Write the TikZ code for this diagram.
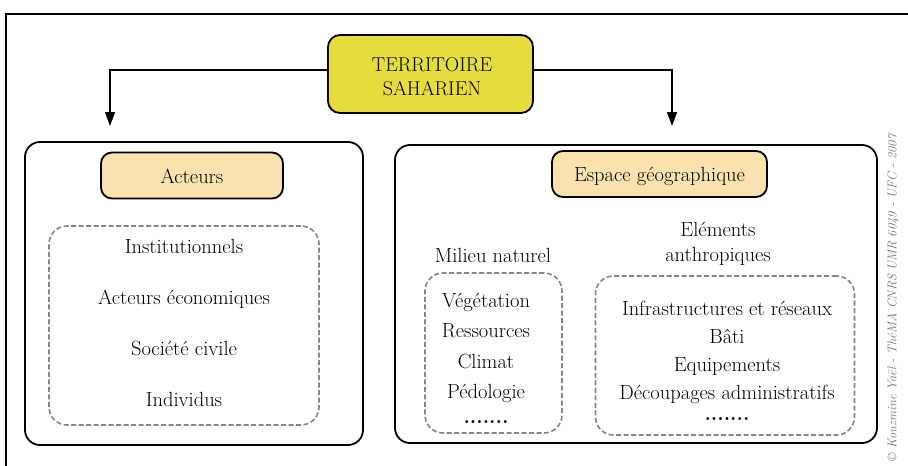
\documentclass[tikz,border=0pt]{standalone}
\usepackage{fontspec}
\usetikzlibrary{arrows.meta}
\definecolor{terfill}{HTML}{E6DC3E}
\definecolor{subfill}{HTML}{F9E2AE}
\definecolor{dashgray}{HTML}{858585}
\definecolor{copygray}{HTML}{707070}
\tikzset{
  every node/.style={inner sep=0pt, outer sep=0pt},
  bigbox/.style={draw=black, line width=1.8pt, rounded corners=15pt},
  terbox/.style={draw=black, line width=1.8pt, rounded corners=12pt, fill=terfill},
  subbox/.style={draw=black, line width=1.8pt, rounded corners=11pt, fill=subfill},
  dashbox/.style={draw=dashgray, line width=1.6pt, dash pattern=on 5pt off 2.5pt, rounded corners=18pt},
  txt/.style={font=\fontsize{20.5}{24}\selectfont, align=center},
  lbl/.style={txt, anchor=base},
  arr/.style={line width=1.6pt, -{Triangle[width=10pt,length=14pt]}},
}
\begin{document}
\begin{tikzpicture}[x=1pt,y=-1pt]
\useasboundingbox (0,0) rectangle (908,466);
% outer frame (partial)
\draw[line width=2.2pt] (908,14) -- (6,14) -- (6,466);
% top box
\node[terbox, minimum width=205pt, minimum height=78pt] (ter) at (430.5,74) {};
\node[lbl, font=\fontsize{20}{24}\selectfont] (ter1) at (432,71) {TERRITOIRE};
\node[lbl, font=\fontsize{20}{24}\selectfont] (ter2) at (432,95) {SAHARIEN};
\coordinate (aL) at (110,126);
\coordinate (aR) at (672,126);
\draw[arr] ([yshift=4pt]ter.west) -| (aL);
\draw[arr] ([yshift=4pt]ter.east) -| (aR);
% left part
\node[bigbox, minimum width=338pt, minimum height=303pt] (bigL) at (194,293.5) {};
\node[subbox, minimum width=182pt, minimum height=46pt] (act) at (192,175.5) {};
\node[lbl] (actt) at (192,183) {Acteurs};
\node[dashbox, minimum width=270pt, minimum height=199pt] (dashL) at (184,325.5) {};
\node[lbl] (l1) at (184,253) {Institutionnels};
\node[lbl] (l2) at (184,304) {Acteurs économiques};
\node[lbl] (l3) at (184,355) {Société civile};
\node[lbl] (l4) at (184,406) {Individus};
% right part
\node[bigbox, minimum width=482pt, minimum height=298pt] (bigR) at (636,294) {};
\node[subbox, minimum width=215pt, minimum height=46pt] (esp) at (659.5,174) {};
\node[lbl] (espt) at (659.5,181) {Espace géographique};
\node[lbl] (mn) at (493,262) {Milieu naturel};
\node[lbl] (ea1) at (718,236) {Eléments};
\node[lbl] (ea2) at (718,261) {anthropiques};
\node[dashbox, minimum width=137pt, minimum height=160pt] (dashN) at (493.5,353) {};
\node[dashbox, minimum width=259pt, minimum height=159pt] (dashA) at (725,355.5) {};
\node[lbl] (n1) at (486,307) {Végétation};
\node[lbl] (n2) at (486,337) {Ressources};
\node[lbl] (n3) at (486,368) {Climat};
\node[lbl] (n4) at (486,398) {Pédologie};
\node[lbl] (n5) at (486,423) {\textbf{.......}};
\node[lbl] (r1) at (727,315) {Infrastructures et réseaux};
\node[lbl] (r2) at (727,343) {Bâti};
\node[lbl] (r3) at (727,371) {Equipements};
\node[lbl] (r4) at (727,399) {Découpages administratifs};
\node[lbl] (r5) at (727,420) {\textbf{.......}};
% copyright
\node[rotate=90, font=\fontsize{12.6}{15}\selectfont\itshape, text=copygray] (copy) at (893,298) {© Kouzmine Yaël - ThéMA CNRS UMR 6049 - UFC - 2007};
\end{tikzpicture}
\end{document}
